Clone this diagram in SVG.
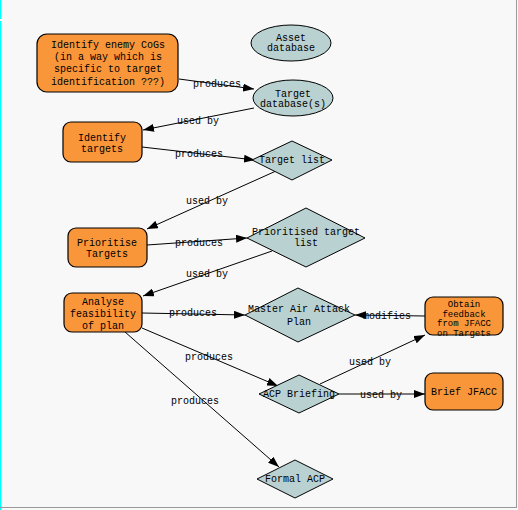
<svg xmlns="http://www.w3.org/2000/svg" width="518" height="510" viewBox="0 0 518 510">
<defs>
<marker id="ah" markerWidth="12" markerHeight="8" refX="11" refY="4" orient="auto" markerUnits="userSpaceOnUse">
<path d="M0,0 L11,4 L0,8 Z" fill="#000"/>
</marker>
</defs>
<style>
text{font-family:"Liberation Mono","DejaVu Sans Mono",monospace;font-size:10px;fill:#000;text-anchor:middle;dominant-baseline:central}
.small{font-size:9px}
.box{fill:#f9963a;stroke:#000;stroke-width:1.2}
.data{fill:#b9d1d1;stroke:#000;stroke-width:1}
.edge{stroke:#000;stroke-width:1;fill:none;marker-end:url(#ah)}
</style>
<rect width="518" height="510" fill="#f8f8f8"/>
<rect x="0" y="0" width="1.5" height="19" fill="#00ffff"/>
<rect x="0" y="21" width="1.5" height="489" fill="#00ffff"/>
<line x1="516.5" y1="0" x2="516.5" y2="508" stroke="#9a9a9a" stroke-width="1"/>
<line x1="0" y1="507.5" x2="517" y2="507.5" stroke="#9a9a9a" stroke-width="1"/>

<g id="connectors">
<line class="edge" x1="179" y1="79" x2="254" y2="89"/>
<text x="217" y="84">produces</text>
<line class="edge" x1="254" y1="108" x2="143" y2="130"/>
<text x="198" y="121">used by</text>
<line class="edge" x1="142" y1="147" x2="255" y2="160"/>
<text x="199" y="154">produces</text>
<line class="edge" x1="276" y1="171" x2="147" y2="229"/>
<text x="207" y="201">used by</text>
<line class="edge" x1="147" y1="245" x2="247" y2="238"/>
<text x="199" y="243">produces</text>
<line class="edge" x1="272" y1="251" x2="143" y2="296"/>
<text x="207" y="274">used by</text>
<line class="edge" x1="142" y1="313" x2="245" y2="315"/>
<text x="193" y="313">produces</text>
<line class="edge" x1="425" y1="316" x2="355" y2="315"/>
<text x="387" y="316">modifies</text>
<line class="edge" x1="142" y1="328" x2="278" y2="386"/>
<text x="209" y="357">produces</text>
<line class="edge" x1="125" y1="332" x2="279" y2="467"/>
<text x="195" y="401">produces</text>
<line class="edge" x1="320" y1="384" x2="425" y2="335"/>
<text x="370" y="362">used by</text>
<line class="edge" x1="339" y1="394" x2="425" y2="394"/>
<text x="381" y="395">used by</text>
</g>

<g id="identify-cogs">
<rect class="box" x="37" y="34" width="141" height="58" rx="10"/>
<text x="108" y="45">Identify enemy CoGs</text>
<text x="108" y="57">(in a way which is</text>
<text x="108" y="69">specific to target</text>
<text x="108" y="82">identification ???)</text>
</g>
<g id="asset-db">
<ellipse class="data" cx="291" cy="43" rx="40" ry="18"/>
<text x="291" y="38">Asset</text>
<text x="291" y="48">database</text>
</g>
<g id="target-db">
<ellipse class="data" cx="293" cy="98" rx="40" ry="18"/>
<text x="293" y="94">Target</text>
<text x="293" y="104">database(s)</text>
</g>
<g id="identify-targets">
<rect class="box" x="63" y="122" width="79" height="40" rx="8"/>
<text x="102" y="138">Identify</text>
<text x="102" y="149">targets</text>
</g>
<g id="target-list">
<polygon class="data" points="292,141 332,160 292,180 252,160"/>
<text x="292" y="160">Target list</text>
</g>
<g id="prioritise-targets">
<rect class="box" x="68" y="228" width="79" height="39" rx="8"/>
<text x="107" y="243">Prioritise</text>
<text x="107" y="254">Targets</text>
</g>
<g id="prioritised-list">
<polygon class="data" points="306,208 365,238 306,267 247,238"/>
<text x="306" y="232">Prioritised target</text>
<text x="306" y="243">list</text>
</g>
<g id="analyse">
<rect class="box" x="64" y="293" width="78" height="39" rx="8"/>
<text x="103" y="302">Analyse</text>
<text x="103" y="314">feasibility</text>
<text x="103" y="326">of plan</text>
</g>
<g id="maap">
<polygon class="data" points="298,288 355,315 298,342 245,315"/>
<text x="299" y="309">Master Air Attack</text>
<text x="299" y="322">Plan</text>
</g>
<g id="obtain-feedback">
<rect class="box" x="425" y="297" width="78" height="38" rx="8"/>
<text class="small" x="464" y="305">Obtain</text>
<text class="small" x="464" y="314.5">feedback</text>
<text class="small" x="464" y="324">from JFACC</text>
<text class="small" x="464" y="333.5">on Targets</text>
</g>
<g id="acp-briefing">
<polygon class="data" points="299,375 339,394 299,413 259,394"/>
<text x="299" y="394">ACP Briefing</text>
</g>
<g id="brief-jfacc">
<rect class="box" x="425" y="373" width="78" height="37" rx="8"/>
<text x="464" y="392">Brief JFACC</text>
</g>
<g id="formal-acp">
<polygon class="data" points="295,460 333,479 295,498 257,479"/>
<text x="295" y="479">Formal ACP</text>
</g>
</svg>
